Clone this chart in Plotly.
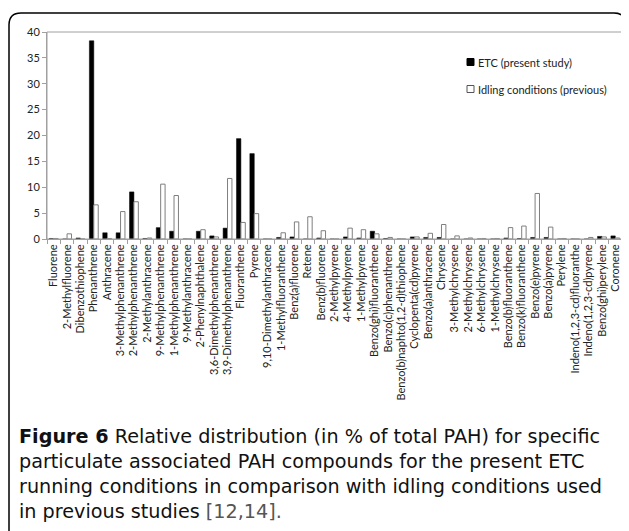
import plotly.graph_objects as go

categories = [
    "Fluorene", "2-Methylfluorene", "Dibenzothiophene", "Phenanthrene", "Anthracene",
    "3-Methylphenanthrene", "2-Methylphenanthrene", "2-Methylanthracene",
    "9-Methylphenanthrene", "1-Methylphenanthrene", "9-Methylanthracene",
    "2-Phenylnaphthalene", "3,6-Dimethylphenanthrene", "3,9-Dimethylphenanthrene",
    "Fluoranthene", "Pyrene", "9,10-Dimethylanthracene", "1-Methylfluoranthene",
    "Benz(a)fluorene", "Retene", "Benz(b)fluorene", "2-Methylpyrene", "4-Methylpyrene",
    "1-Methylpyrene", "Benzo(ghi)fluoranthene", "Benzo(c)phenanthrene",
    "Benzo(b)naphto(1,2-d)thiophene", "Cyclopenta(cd)pyrene", "Benzo(a)anthracene",
    "Chrysene", "3-Methylchrysene", "2-Methylchrysene", "6-Methylchrysene",
    "1-Methylchrysene", "Benzo(b)fluoranthene", "Benzo(k)fluoranthene",
    "Benzo(e)pyrene", "Benzo(a)pyrene", "Perylene", "Indeno(1,2,3-cd)fluoranthe",
    "Indeno(1,2,3-cd)pyrene", "Benzo(ghi)perylene", "Coronene",
]

etc_present = [
    0.1, 0.0, 0.2, 38.3, 1.2, 1.2, 9.1, 0.1, 2.2, 1.5, 0.0, 1.5, 0.6, 2.1,
    19.4, 16.5, 0.0, 0.3, 0.4, 0.0, 0.2, 0.0, 0.4, 0.2, 1.5, 0.1, 0.0, 0.4,
    0.3, 0.3, 0.0, 0.0, 0.0, 0.0, 0.2, 0.1, 0.3, 0.3, 0.0, 0.0, 0.0, 0.5, 0.6,
]

idling_previous = [
    0.1, 1.0, 0.0, 6.6, 0.1, 5.3, 7.2, 0.2, 10.6, 8.4, 0.0, 1.8, 0.4, 11.7,
    3.2, 4.9, 0.0, 1.2, 3.3, 4.3, 1.6, 0.0, 2.1, 1.8, 1.0, 0.3, 0.0, 0.4,
    1.1, 2.8, 0.6, 0.2, 0.1, 0.1, 2.2, 2.5, 8.8, 2.3, 0.1, 0.0, 0.3, 0.4, 0.2,
]

y_ticks = [0, 5, 10, 15, 20, 25, 30, 35, 40]

series_names = ["ETC (present study)", "Idling conditions (previous)"]

caption_lines = [
    "<b>Figure 6</b> Relative distribution (in % of total PAH) for specific",
    "particulate associated PAH compounds for the present ETC",
    "running conditions in comparison with idling conditions used",
    "in previous studies <span style='color:#555'>[12,14].</span>",
]

OFF = 8  # page body margin
W, H = 629 - OFF, 531 - OFF
L, R, T, B = 47, 622, 32, 239  # plot area in page pixels
pw, ph = R - L, B - T


def px(x):
    return (x - L) / pw


def py(y):
    return (B - y) / ph


fig = go.Figure()
fig.add_trace(go.Bar(
    x=categories, y=etc_present, name=series_names[0],
    marker=dict(color="black", line=dict(color="black", width=0.5)),
))
fig.add_trace(go.Bar(
    x=categories, y=idling_previous, name=series_names[1],
    marker=dict(color="white", line=dict(color="#7f7f7f", width=1)),
))

# rounded frame
x0, y0, x1, y1, r = 9, 13, 626, 545, 12
path = (
    f"M {px(x0)},{py(y1)} L {px(x0)},{py(y0 + r)} "
    f"Q {px(x0)},{py(y0)} {px(x0 + r)},{py(y0)} "
    f"L {px(x1 - r)},{py(y0)} Q {px(x1)},{py(y0)} {px(x1)},{py(y0 + r)} "
    f"L {px(x1)},{py(y1)}"
)
shapes = [
    dict(type="path", xref="paper", yref="paper", path=path,
         line=dict(color="black", width=1.5)),
    dict(type="rect", xref="paper", yref="paper", x0=0, y0=0, x1=1, y1=1,
         line=dict(color="#a0a0a0", width=1)),
]

annotations = []
leg_rows = [62, 89]
leg_fill = ["black", "white"]
leg_line = ["black", "#555"]
for name, yy, fc, lc in zip(series_names, leg_rows, leg_fill, leg_line):
    shapes.append(dict(type="rect", xref="paper", yref="paper",
                       x0=px(467), x1=px(474), y0=py(yy + 3.5), y1=py(yy - 3.5),
                       fillcolor=fc, line=dict(color=lc, width=1)))
    annotations.append(dict(
        text=name, xref="paper", yref="paper", x=px(476), y=py(yy),
        xanchor="left", yanchor="middle", showarrow=False,
        font=dict(family="Lato", size=11, color="#222"),
    ))

annotations.append(dict(
    text="<br>".join(caption_lines), xref="paper", yref="paper",
    x=px(17), y=py(474), xanchor="left", yanchor="middle", align="left",
    showarrow=False,
    font=dict(family="DejaVu Sans", size=19.2, color="#111"),
))

fig.update_layout(
    width=W, height=H,
    margin=dict(l=L - OFF, r=W - (R - OFF), t=T - OFF, b=H - (B - OFF), pad=0),
    paper_bgcolor="white", plot_bgcolor="white",
    barmode="group", bargap=0.34, bargroupgap=0.0,
    showlegend=False,
    shapes=shapes,
    annotations=annotations,
    font=dict(family="Lato", color="#222"),
)
fig.update_xaxes(
    type="category", tickangle=-90, tickfont=dict(family="Lato", size=11, color="#222"),
    showline=True, linecolor="#a0a0a0", linewidth=1,
    ticks="outside", tickson="boundaries", ticklen=4, tickcolor="#a0a0a0",
    showgrid=False, automargin=False,
)
fig.update_yaxes(
    range=[0, 40], tickvals=y_ticks, tickfont=dict(family="Lato", size=11, color="#222"),
    showline=True, linecolor="#a0a0a0", linewidth=1,
    ticks="outside", ticklen=4, tickcolor="#a0a0a0",
    showgrid=False, zeroline=False, automargin=False,
)

fig.write_html("out.html")
